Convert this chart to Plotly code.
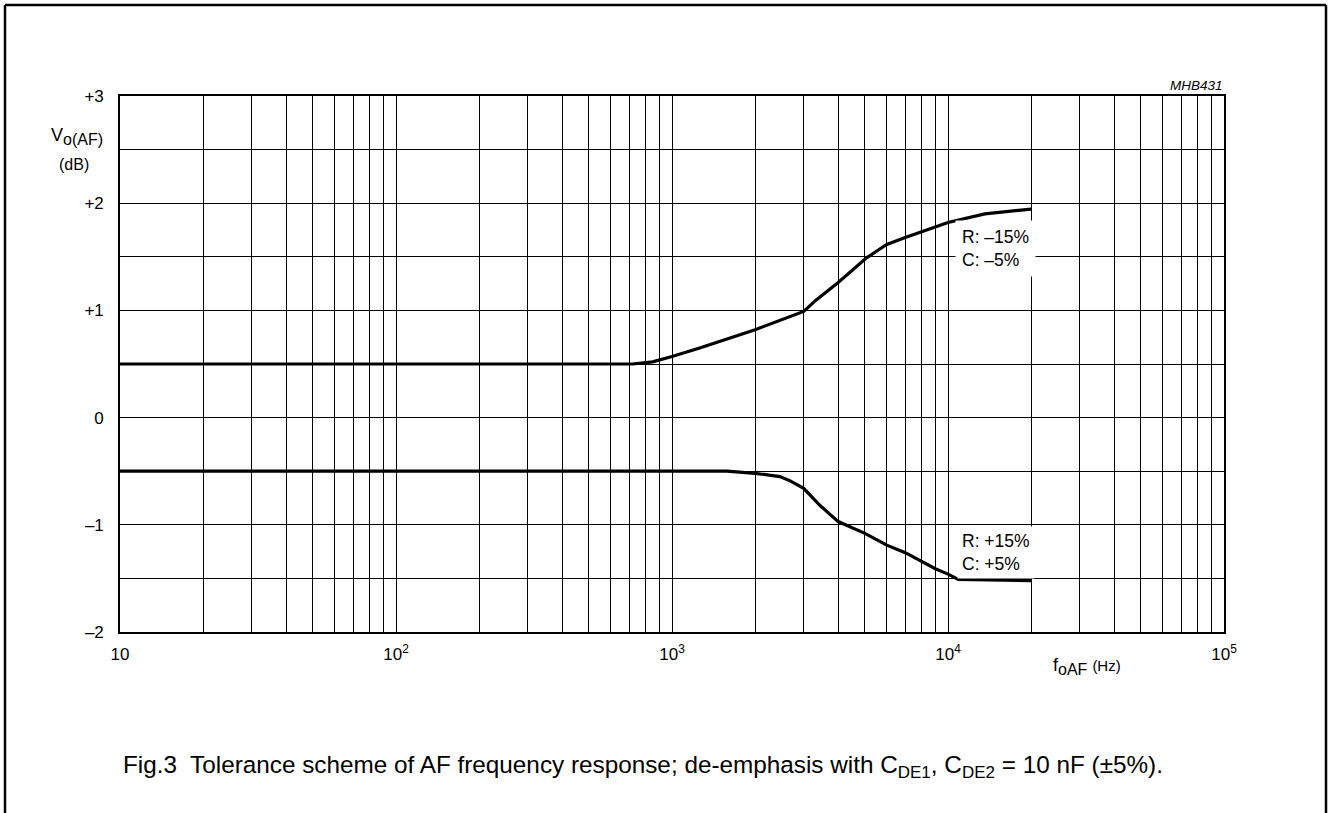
import plotly.graph_objects as go

# ---- data ----
upper_f = [10, 720, 850, 1000, 1260, 2000, 3000, 3340, 4000, 4540, 5070, 5680, 6000, 7000, 8000, 10000, 13600, 20000]
upper_db = [0.5, 0.5, 0.52, 0.57, 0.65, 0.82, 0.99, 1.10, 1.26, 1.38, 1.49, 1.575, 1.615, 1.68, 1.73, 1.82, 1.90, 1.945]

lower_f = [10, 1580, 2000, 2460, 2680, 3000, 3440, 4000, 5000, 6000, 7000, 8000, 9000, 10000, 10900, 20000]
lower_db = [-0.5, -0.5, -0.52, -0.55, -0.59, -0.66, -0.82, -0.97, -1.08, -1.19, -1.26, -1.34, -1.41, -1.46, -1.51, -1.52]

x_grid = [m * 10 ** k for k in range(1, 5) for m in range(1, 10)] + [100000]
x_tick_labels = {10: "10", 100: "10<sup>2</sup>", 1000: "10<sup>3</sup>",
                 10000: "10<sup>4</sup>", 100000: "10<sup>5</sup>"}
y_grid = [-2, -1.5, -1, -0.5, 0, 0.5, 1, 1.5, 2, 2.5, 3]
y_tick_labels = {-2: "\u20132", -1: "\u20131", 0: "0", 1: "+1", 2: "+2", 3: "+3"}

upper_label = "R: \u201315%<br>C: \u20135%"
lower_label = "R: +15%<br>C: +5%"

# ---- layout geometry (pixels) ----
W, H = 1329, 813
L, R, T, B = 120, 1224, 96, 632
FONT = "Liberation Sans, Arial, Helvetica, sans-serif"


def px(x):
    return (x - L) / (R - L)


def py(y):
    return (B - y) / (B - T)


fig = go.Figure()
fig.add_trace(go.Scatter(x=upper_f, y=upper_db, mode="lines",
                         line=dict(color="black", width=3.2), showlegend=False))
fig.add_trace(go.Scatter(x=lower_f, y=lower_db, mode="lines",
                         line=dict(color="black", width=3.2), showlegend=False))

fig.update_xaxes(type="log", range=[1, 5], tickvals=x_grid,
                 ticktext=[x_tick_labels.get(v, "") for v in x_grid],
                 showgrid=True, gridcolor="black", gridwidth=1.2,
                 showline=True, mirror=True, linecolor="black", linewidth=1.6,
                 ticks="", zeroline=False, ticklabelstandoff=6,
                 tickfont=dict(size=17, color="black", family=FONT))
fig.update_yaxes(range=[-2, 3], tickvals=y_grid,
                 ticktext=[y_tick_labels.get(v, "") for v in y_grid],
                 showgrid=True, gridcolor="black", gridwidth=1.2,
                 showline=True, mirror=True, linecolor="black", linewidth=1.6,
                 ticks="", zeroline=False, ticklabelstandoff=11,
                 tickfont=dict(size=17, color="black", family=FONT))

ann = []
ann.append(dict(x=px(955), y=py(249), xref="paper", yref="paper", text=upper_label,
                showarrow=False, xanchor="left", yanchor="middle", align="left",
                bgcolor="white", borderpad=6, font=dict(size=17.5, color="black", family=FONT)))
ann.append(dict(x=px(957), y=py(552), xref="paper", yref="paper", text=lower_label,
                showarrow=False, xanchor="left", yanchor="middle", align="left",
                bgcolor="white", borderpad=4, font=dict(size=17.5, color="black", family=FONT)))
ann.append(dict(x=px(77), y=py(136), xref="paper", yref="paper",
                text="V<sub><span style='font-size:16px'>o(AF)</span></sub>",
                showarrow=False, xanchor="center", yanchor="middle",
                font=dict(size=18, color="black", family=FONT)))
ann.append(dict(x=px(74), y=py(164), xref="paper", yref="paper", text="(dB)",
                showarrow=False, xanchor="center", yanchor="middle",
                font=dict(size=16, color="black", family=FONT)))
ann.append(dict(x=px(1087), y=py(666), xref="paper", yref="paper",
                text="f<sub><span style='font-size:16px'>oAF</span></sub> "
                     "<span style='font-size:15px'>(Hz)</span>",
                showarrow=False, xanchor="center", yanchor="middle",
                font=dict(size=18, color="black", family=FONT)))
ann.append(dict(x=px(1225), y=py(86), xref="paper", yref="paper", text="<i>MHB431</i>",
                showarrow=False, xanchor="right", yanchor="middle",
                font=dict(size=13.5, color="black", family=FONT)))
ann.append(dict(x=px(643), y=py(766), xref="paper", yref="paper",
                text="Fig.3  Tolerance scheme of AF frequency response; de-emphasis with "
                     "C<sub>DE1</sub>, C<sub>DE2</sub> = 10 nF (\u00b15%).",
                showarrow=False, xanchor="center", yanchor="middle",
                font=dict(size=24.3, color="black", family=FONT)))

shapes = [
    dict(type="line", xref="paper", yref="paper", x0=px(5), x1=px(5), y0=py(5), y1=py(830),
         line=dict(color="black", width=2.5)),
    dict(type="line", xref="paper", yref="paper", x0=px(5), x1=px(1326), y0=py(5), y1=py(5),
         line=dict(color="black", width=2.5)),
    dict(type="line", xref="paper", yref="paper", x0=px(1326), x1=px(1326), y0=py(5), y1=py(830),
         line=dict(color="black", width=2.5)),
]

fig.update_layout(width=W, height=H, margin=dict(l=L, r=W - R, t=T, b=H - B),
                  paper_bgcolor="white", plot_bgcolor="white",
                  annotations=ann, shapes=shapes,
                  font=dict(family=FONT, color="black"))

fig.write_html("out.html", config={"displayModeBar": False},
               post_script="document.body.style.margin='0px';document.body.style.overflow='hidden';")
